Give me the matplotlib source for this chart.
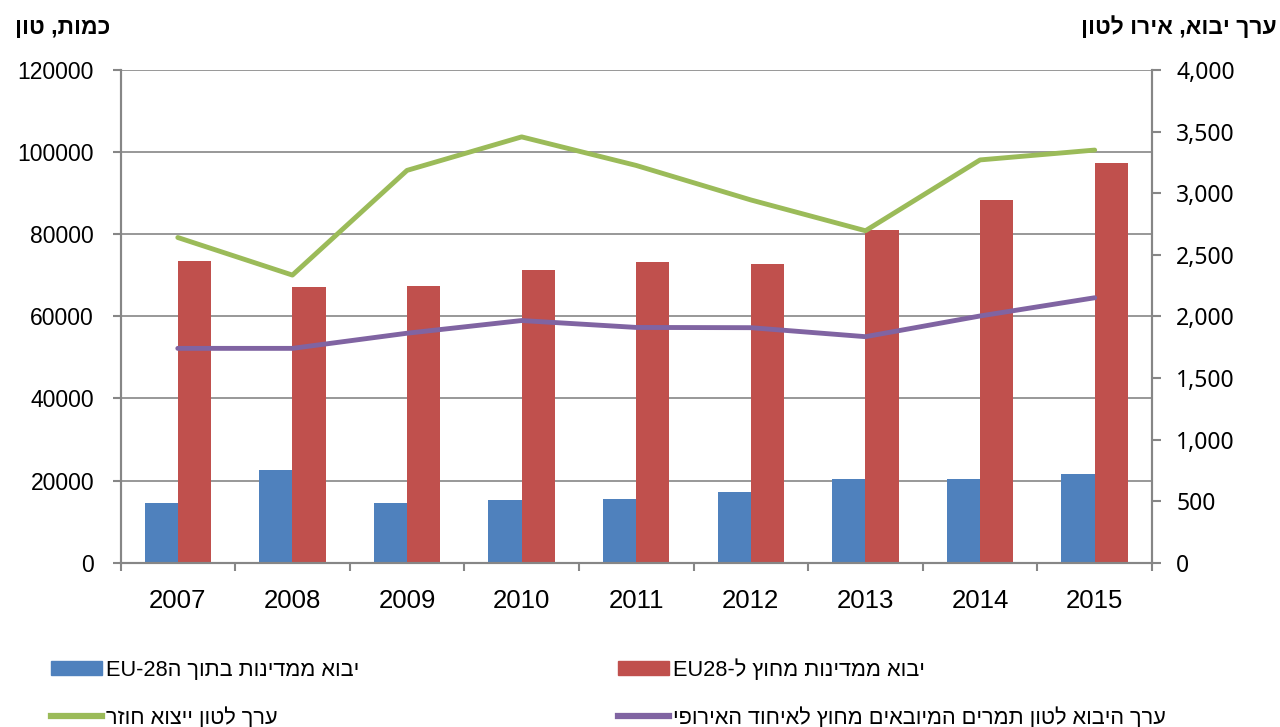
import matplotlib as mpl
import numpy as np
from matplotlib import pyplot as plt
from matplotlib.patches import Patch
from matplotlib.lines import Line2D
from matplotlib.ticker import FuncFormatter, MultipleLocator

years = ["2007", "2008", "2009", "2010", "2011", "2012", "2013", "2014", "2015"]

# quantity, tons (left axis)
import_in_eu = [14500, 22600, 14500, 15300, 15600, 17300, 20500, 20300, 21600]
import_out_eu = [73600, 67200, 67300, 71200, 73200, 72700, 81000, 88300, 97300]

# value, euro per ton (right axis)
reexport_value = [2640, 2335, 3185, 3457, 3225, 2945, 2695, 3270, 3350]
import_value_out_eu = [1740, 1740, 1863, 1966, 1910, 1908, 1835, 2003, 2151]

# hebrew labels (logical order); flipped to visual order for drawing
lbl_in_eu = "יבוא ממדינות בתוך ה"
lbl_out_eu = "יבוא ממדינות מחוץ ל-"
lbl_reexport = "ערך לטון ייצוא חוזר"
lbl_import_val = "ערך היבוא לטון תמרים המיובאים מחוץ לאיחוד האירופי"
title_left = "כמות, טון"
title_right = "ערך יבוא, אירו לטון"


def vis(s):
    return s[::-1]


heb_font = ['Liberation Sans Narrow', 'Liberation Sans', 'DejaVu Sans']
grey = '#868686'
c_blue, c_red = '#4F81BD', '#C0504D'
c_green, c_purple = '#9BBB59', '#8064A2'

fig = plt.figure(figsize=(12.8, 7.27), dpi=100)
ax = fig.add_axes([120.5 / 1280, 1 - 562.7 / 727, (1152 - 120.5) / 1280, (562.7 - 70) / 727])
ax2 = ax.twinx()

x = np.arange(len(years))
w = 0.29
ax.bar(x - w / 2, import_in_eu, w, color=c_blue, zorder=2)
ax.bar(x + w / 2, import_out_eu, w, color=c_red, zorder=2)

ax2.plot(x, reexport_value, color=c_green, lw=3.5, solid_capstyle='round', zorder=3)
ax2.plot(x, import_value_out_eu, color=c_purple, lw=3.5, solid_capstyle='round', zorder=3)

ax.set_xlim(-0.5, len(years) - 0.5)
ax.set_ylim(0, 120000)
ax2.set_ylim(0, 4000)

ax.yaxis.set_major_locator(MultipleLocator(20000))
ax2.yaxis.set_major_locator(MultipleLocator(500))
ax2.yaxis.set_major_formatter(FuncFormatter(lambda v, p: f"{int(v):,}"))

ax.set_axisbelow(True)
ax.yaxis.grid(True, color=grey, lw=1.2)

ax.set_xticks(x)
ax.set_xticklabels(years)
ax.set_xticks(np.arange(-0.5, len(years)), minor=True)
ax.tick_params(axis='x', which='major', length=0, pad=19, labelsize=18.5)
ax.tick_params(axis='x', which='minor', length=6, width=1.5, color=grey)
ax.tick_params(axis='y', length=6, width=1.5, color=grey, pad=13, labelsize=16.5)
ax2.tick_params(axis='y', length=6.5, width=1.5, color=grey, pad=11, labelsize=16.5)
for t in ax.get_xticklabels() + ax.get_yticklabels():
    t.set_fontfamily('Liberation Sans')
for t in ax2.get_yticklabels():
    t.set_fontfamily('Noto Sans')

for a in (ax, ax2):
    a.spines['top'].set_visible(False)
    for s in ('left', 'right', 'bottom'):
        a.spines[s].set_color(grey)
        a.spines[s].set_linewidth(1.5)

fig.text(15 / 1280, 1 - 28 / 727, vis(title_left), ha='left', va='center',
         fontsize=16.5, fontweight='bold', family=heb_font)
fig.text(1277 / 1280, 1 - 28 / 727, vis(title_right), ha='right', va='center',
         fontsize=16.5, fontweight='bold', family=heb_font)

entries = [
    (Patch(color=c_blue), "EU-28" + vis(lbl_in_eu), 51, 670),
    (Patch(color=c_red), "EU28" + vis(lbl_out_eu), 618, 670),
    (Line2D([], [], color=c_green, lw=4.5), vis(lbl_reexport), 51, 718),
    (Line2D([], [], color=c_purple, lw=4.5), vis(lbl_import_val), 618, 718),
]
for h, lab, px, py in entries:
    leg = fig.legend([h], [lab], loc='center left', bbox_to_anchor=(px / 1280, 1 - py / 727),
                     frameon=False, borderpad=0, borderaxespad=0, handlelength=2.35,
                     handleheight=0.62, handletextpad=0.15,
                     prop={'family': heb_font, 'size': 15.7})

fig.savefig('out.png', dpi=100)
